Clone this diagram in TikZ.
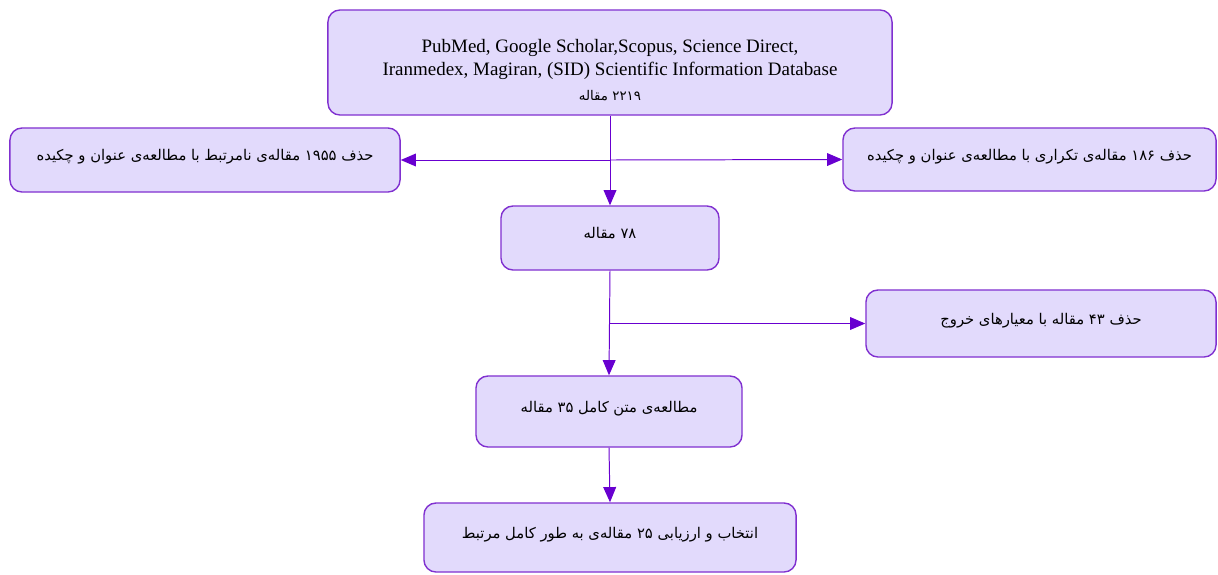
\documentclass[tikz,border=0pt]{standalone}
\usepackage{fontspec}
\setmainfont{Liberation Serif}
\newfontfamily\farsi[Script=Arabic]{DejaVu Sans}
\TeXXeTstate=1
\usetikzlibrary{arrows.meta}
\usetikzlibrary{calc}

\definecolor{boxfill}{RGB}{226,218,252}
\definecolor{boxline}{RGB}{128,48,208}
\definecolor{arrline}{RGB}{104,0,208}

\tikzset{
  box/.style={draw=boxline, fill=boxfill, line width=1pt, rounded corners=0.3cm,
    align=center, inner sep=2pt},
  fabox/.style={box, text depth=0.24cm, font=\farsi\fontsize{10.5}{13}\selectfont},
  arr/.style={draw=arrline, line width=0.7pt,
    -{Triangle[length=0.38cm, width=0.32cm]}},
}
\newcommand{\fa}[1]{\beginR #1\endR}

\begin{document}
\begin{tikzpicture}[x=0.025cm, y=-0.025cm]
\useasboundingbox (0,0) rectangle (1218,574);

% sources
\node[box, minimum width=14.1cm, minimum height=2.625cm,
  font=\fontsize{13.5}{16}\selectfont] (src) at (610,62.5)
  {\rule{0pt}{0.72cm}PubMed, Google Scholar,Scopus, Science Direct,\\
   Iranmedex, Magiran, (SID) Scientific Information Database\\[2pt]
   {\farsi\fontsize{9.5}{13}\selectfont\beginR ۲۲۱۹ مقاله\endR}};

% removed
\node[fabox, minimum width=9.75cm, minimum height=1.6cm] (unrel) at (205,160)
  {\fa{حذف ۱۹۵۵ مقاله‌ی نامرتبط با مطالعه‌ی عنوان و چکیده}};
\node[fabox, minimum width=9.325cm, minimum height=1.575cm] (dup) at (1029.5,159.5)
  {\fa{حذف ۱۸۶ مقاله‌ی تکراری با مطالعه‌ی عنوان و چکیده}};

\node[fabox, minimum width=5.45cm, minimum height=1.6cm] (n78) at (610,238)
  {\fa{۷۸ مقاله}};
\node[fabox, minimum width=8.75cm, minimum height=1.675cm] (excl) at (1041,323.5)
  {\fa{حذف ۴۳ مقاله با معیارهای خروج}};

\node[fabox, minimum width=6.65cm, minimum height=1.775cm] (full) at (609,411.5)
  {\fa{مطالعه‌ی متن کامل ۳۵ مقاله}};
\node[fabox, minimum width=9.3cm, minimum height=1.725cm] (final) at (610,537.5)
  {\fa{انتخاب و ارزیابی ۲۵ مقاله‌ی به طور کامل مرتبط}};

% connectors
\coordinate (j1) at (src.south |- unrel.east);
\coordinate (j2) at (n78.south |- excl.west);
\draw[arr] (src.south) -- (n78.north);
\draw[arr] (j1) -- (unrel.east);
\draw[arr] (j1) -- (dup.west);
\draw[arr] (n78.south) -- (full.north);
\draw[arr] (j2) -- (excl.west);
\draw[arr] (full.south) -- (final.north);
\end{tikzpicture}
\end{document}
